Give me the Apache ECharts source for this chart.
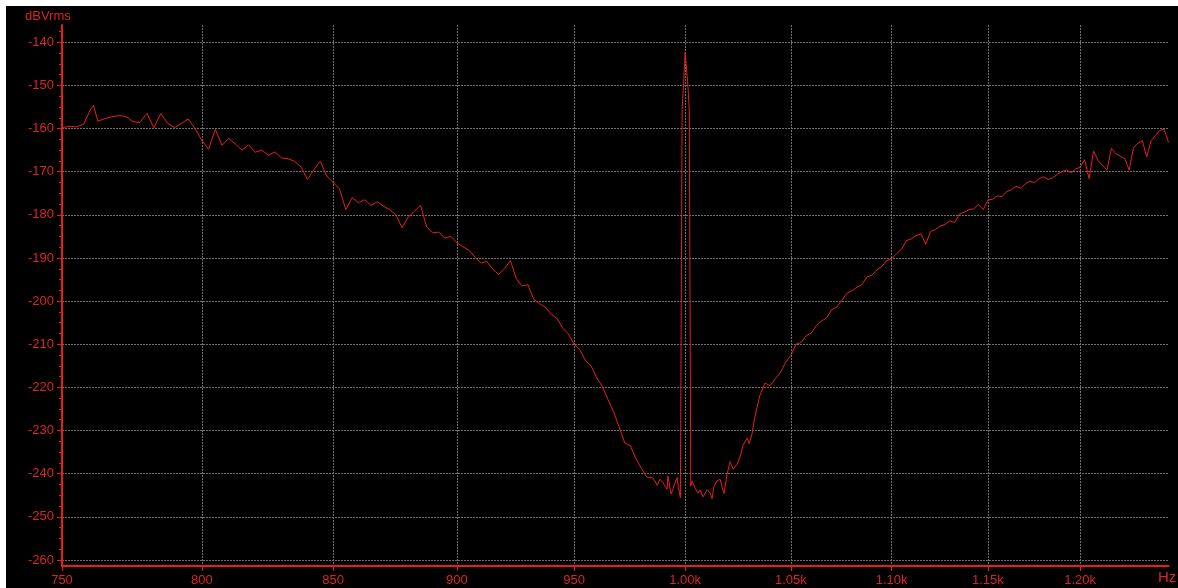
<!DOCTYPE html>
<html>
<head>
<meta charset="utf-8">
<script src="https://cdn.jsdelivr.net/npm/echarts@6/dist/echarts.min.js"></script>
<style>
  html, body { margin: 0; padding: 0; background: #ffffff; }
  #chart { position: absolute; left: 6px; top: 6px; width: 1172px; height: 582px; }
</style>
</head>
<body>
<div id="chart"></div>
<script>
// spectrum trace (Hz, dBVrms)
const freqHz = [
  750, 752.5, 755, 757.5, 760, 761, 762.5, 765, 767.5, 770, 772.5, 775, 777.5, 780, 782.5, 785, 787.5, 790, 792.5, 795, 797.5,
  800, 802.5, 805, 807.5, 810, 812.5, 815, 817.5, 820, 822.5, 825, 827.5, 830, 832.5, 835, 837.5, 840, 842.5, 845, 847.5,
  850, 852.5, 855, 857.5, 860, 862.5, 865, 867.5, 870, 872.5, 875, 877.5, 880, 882.5, 885, 887.5, 890, 892.5, 895, 897.5,
  900, 902.5, 905, 907.5, 910, 912.5, 915, 917.5, 920, 922.5, 925, 927.5, 930, 932.5, 935, 937.5, 940, 942.5, 945, 947.5,
  950, 952.5, 955, 957.5, 960, 962.5, 965, 967.5, 970, 972.5, 975, 977.5, 980, 982.5, 985,
  986.2, 987.1, 988.5, 989.8, 990.8, 991.7, 992.1, 993.5, 994.4, 995.3, 996.3, 996.7, 997.8,
  998.6, 999.3, 1000.0, 1000.6, 1001.2, 1001.9, 1002.6,
  1003.2, 1004.1, 1005.0, 1006.0, 1006.9, 1008.3, 1010.2, 1011.6, 1012.5, 1013.4, 1014.8, 1016.3, 1017.2, 1018.1,
  1019.5, 1021.0, 1022.4, 1024.3, 1025.7, 1027.1, 1029.0, 1030.0, 1031.4, 1032.3,
  1035, 1037.5, 1040, 1042.5, 1045, 1047.5, 1050, 1052.5, 1055, 1057.5, 1060, 1062.5, 1065, 1067.5, 1070, 1072.5,
  1075, 1077.5, 1080, 1082.5, 1085, 1087.5, 1090, 1092.5, 1095, 1097.5, 1100, 1102.5, 1105, 1107.5, 1110, 1112.5,
  1115, 1117.5, 1120, 1122.5, 1125, 1127.5, 1130, 1132.5, 1135, 1137.5, 1140, 1142.5, 1145, 1147.5, 1150, 1152.5,
  1155, 1157.5, 1160, 1162.5, 1165, 1167.5, 1170, 1172.5, 1175, 1177.5, 1180, 1182.5, 1185, 1187.5, 1190, 1192.5,
  1195, 1197.5, 1200, 1202.5, 1205, 1207.5, 1210, 1212.5, 1215, 1217.5, 1220, 1222.5, 1225, 1227.5, 1230, 1232.5,
  1235, 1237.5, 1240, 1242.5, 1245, 1247.5, 1250
];
const levelDb = [
  -159.8, -159.5, -159.6, -159.0, -155.5, -154.6, -158.3, -157.7, -157.3, -157.0, -157.2, -158.4, -158.6, -156.5, -159.8, -156.5, -158.8, -159.8, -158.8, -157.8, -160.0,
  -162.7, -164.8, -160.2, -163.9, -162.3, -163.6, -165.0, -163.8, -165.5, -165.0, -166.2, -165.4, -166.8, -167.0, -167.6, -168.9, -171.8, -169.5, -167.6, -171.0,
  -172.5, -174.0, -178.8, -176.0, -177.2, -176.5, -177.8, -177.0, -178.0, -178.8, -180.0, -183.0, -180.5, -179.2, -177.8, -182.8, -184.2, -184.0, -185.4, -185.0,
  -186.5, -187.4, -188.2, -189.8, -191.2, -190.8, -192.6, -193.8, -192.5, -190.6, -194.8, -196.5, -196.2, -199.6, -200.6, -201.4, -203.0, -204.0, -206.2, -207.6,
  -210.0, -211.2, -213.8, -215.0, -217.8, -219.8, -222.8, -225.6, -229.2, -232.9, -233.5, -236.5, -238.8, -240.8, -240.9,
  -241.7, -242.7, -241.3, -242.1, -242.9, -243.6, -240.5, -244.7, -243.6, -242.1, -240.9, -242.5, -245.6,
  -155.5, -149.5, -142.3, -142.5, -149.5, -155.5, -242.9,
  -241.7, -241.3, -243.7, -244.5, -243.8, -245.4, -243.7, -244.5, -245.8, -242.9, -241.7, -241.3, -243.2, -244.6,
  -240.2, -237.2, -239.0, -237.8, -236.1, -233.4, -231.8, -233.0, -230.7, -227.8,
  -222.0, -219.0, -219.6, -218.0, -216.5, -214.2, -212.6, -210.0, -209.6, -208.0, -207.4, -205.6, -204.6, -203.9, -202.0, -201.4,
  -199.8, -198.2, -197.6, -196.8, -196.2, -194.4, -194.0, -192.8, -192.0, -190.6, -190.2, -189.0, -188.0, -186.0, -185.6, -184.8,
  -184.4, -186.8, -183.8, -183.4, -182.6, -182.2, -181.4, -181.8, -179.8, -179.4, -178.8, -178.6, -177.6, -178.8, -176.6, -176.4,
  -175.6, -175.8, -174.6, -174.2, -173.4, -173.8, -172.8, -172.2, -172.6, -171.6, -171.2, -171.8, -171.4, -170.6, -170.0, -169.6,
  -170.2, -169.4, -169.0, -167.2, -171.6, -165.2, -167.4, -168.6, -169.6, -164.6, -165.8, -166.4, -167.0, -169.6, -164.4, -163.4,
  -162.8, -166.6, -162.8, -161.6, -160.4, -160.2, -163.2
];

// axis ticks
const xTicks = [750, 800, 850, 900, 950, 1000, 1050, 1100, 1150, 1200];
const xTickLabels = ['750', '800', '850', '900', '950', '1.00k', '1.05k', '1.10k', '1.15k', '1.20k'];
const yTicks = [-260, -250, -240, -230, -220, -210, -200, -190, -180, -170, -160, -150, -140];
const yMinorTicks = [];
yTicks.forEach(function (t) {
  yMinorTicks.push(t - 2.5, t + 2.5, t + 5, t + 7.5);
});

const fMin = 750;
const fMax = 1250;
const dbMin = -261.4;
const dbMax = -136;

const red = '#e81e1e';
const labelRed = '#d82626';
const gridGrey = '#6f6f6f';
const font = '"Liberation Sans", Arial, sans-serif';

// frequency axis is logarithmic: plot log10(f) on a value axis
const lg = function (f) { return Math.log10(f) };
const seriesData = freqHz.map(function (f, i) { return [lg(f), levelDb[i]] });

const myChart = echarts.init(document.getElementById('chart'), null, { renderer: 'canvas' });

const option = {
  backgroundColor: '#000000',
  animation: false,
  grid: { left: 56, right: 9.5, top: 19, bottom: 22, containLabel: false },
  xAxis: {
    type: 'value',
    min: lg(fMin),
    max: lg(fMax),
    axisLine: { show: true, onZero: false, lineStyle: { color: red, width: 2 } },
    axisTick: {
      show: true,
      length: 5,
      customValues: xTicks.map(lg),
      lineStyle: { color: red, width: 1 },
    },
    axisLabel: {
      show: true,
      customValues: xTicks.map(lg),
      margin: 8,
      color: labelRed,
      fontFamily: font,
      fontSize: 13,
      formatter: function (v) {
        let best = 0;
        xTicks.forEach(function (t, i) {
          if (Math.abs(lg(t) - v) < Math.abs(lg(xTicks[best]) - v)) best = i;
        });
        return xTickLabels[best];
      },
    },
    splitLine: { show: true, lineStyle: { color: gridGrey, width: 1, type: [2, 1] } },
  },
  yAxis: [
    {
      type: 'value',
      min: dbMin,
      max: dbMax,
      axisLine: { show: true, onZero: false, lineStyle: { color: red, width: 2 } },
      axisTick: { show: true, length: 5, customValues: yTicks, lineStyle: { color: red, width: 1 } },
      axisLabel: {
        show: true,
        customValues: yTicks,
        margin: 8,
        color: labelRed,
        fontFamily: font,
        fontSize: 13,
      },
      splitLine: { show: true, lineStyle: { color: gridGrey, width: 1, type: [2, 1] } },
    },
    {
      // minor ticks every 2.5 dB
      type: 'value',
      position: 'left',
      min: dbMin,
      max: dbMax,
      axisLine: { show: false },
      axisTick: { show: true, length: 3, customValues: yMinorTicks, lineStyle: { color: red, width: 1 } },
      axisLabel: { show: false },
      splitLine: { show: false },
    },
  ],
  graphic: [
    {
      type: 'text',
      left: 19,
      top: 4,
      style: { text: 'dBVrms', fill: labelRed, font: '13px ' + font },
    },
    {
      type: 'text',
      left: 1152,
      top: 564,
      style: { text: 'Hz', fill: labelRed, font: '15px ' + font },
    },
  ],
  series: [
    {
      type: 'line',
      data: seriesData,
      showSymbol: false,
      symbol: 'none',
      clip: true,
      lineStyle: { color: red, width: 1 },
      itemStyle: { color: red },
    },
  ],
};

option && myChart.setOption(option);
</script>
</body>
</html>
